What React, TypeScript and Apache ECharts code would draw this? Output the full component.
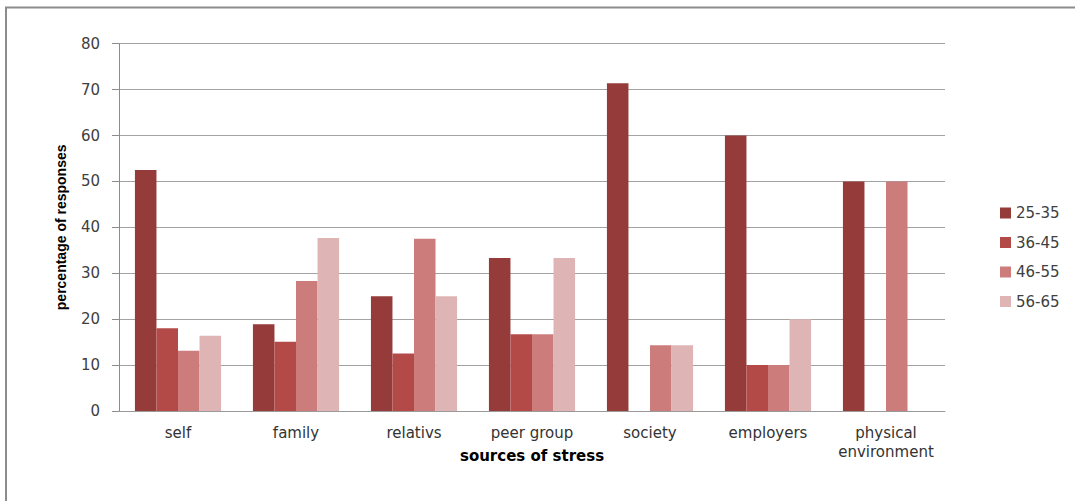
import React, { useEffect, useRef } from "react";
import * as echarts from "echarts";

// Sources of stress by age group (percentage of responses)
const categories = [
  "self",
  "family",
  "relativs",
  "peer group",
  "society",
  "employers",
  "physical\nenvironment",
];
const ageGroups = ["25-35", "36-45", "46-55", "56-65"];
const age25to35 = [52.5, 18.9, 25, 33.3, 71.4, 60, 50];
const age36to45 = [18, 15.1, 12.5, 16.7, 0, 10, 0];
const age46to55 = [13.1, 28.3, 37.5, 16.7, 14.3, 10, 50];
const age56to65 = [16.4, 37.7, 25, 33.3, 14.3, 20, 0];
const yTicks = [0, 10, 20, 30, 40, 50, 60, 70, 80];

const seriesValues = [age25to35, age36to45, age46to55, age56to65];
const colors = ["#953b3a", "#b34a48", "#cb7c7b", "#dfb4b4"];

const FONT = "DejaVu Sans";

export default function App() {
  const ref = useRef<HTMLDivElement>(null);

  useEffect(() => {
    document.body.style.margin = "0";
    if (!ref.current) return;
    const chart = echarts.init(ref.current, undefined, { renderer: "svg" });
    chart.setOption({
      animation: false,
      backgroundColor: "#ffffff",
      graphic: [
        {
          type: "rect",
          shape: { x: 6, y: 7.5, width: 1200, height: 700 },
          style: { fill: "none", stroke: "#8c8c8c", lineWidth: 2 },
          silent: true,
        },
      ],
      grid: { left: 119, right: 130, top: 43.7, bottom: 90, containLabel: false },
      legend: {
        orient: "vertical",
        left: 995,
        top: 200.5,
        icon: "rect",
        itemWidth: 11,
        itemHeight: 11,
        itemGap: 14.5,
        data: ageGroups,
        textStyle: { fontFamily: FONT, fontSize: 15, color: "#404040", lineHeight: 15 },
      },
      xAxis: {
        type: "category",
        data: categories,
        name: "sources of stress",
        nameLocation: "middle",
        nameGap: 45,
        nameMoveOverlap: false,
        nameTextStyle: {
          fontFamily: FONT,
          fontSize: 15,
          fontWeight: "bold",
          color: "#000000",
          verticalAlign: "middle",
        },
        axisLine: { show: true, lineStyle: { color: "#9a9a9a", width: 1 } },
        axisTick: { show: false },
        axisLabel: {
          interval: 0,
          margin: 12,
          fontFamily: FONT,
          fontSize: 15,
          lineHeight: 19.5,
          color: "#333333",
        },
      },
      yAxis: {
        type: "value",
        min: yTicks[0],
        max: yTicks[yTicks.length - 1],
        interval: yTicks[1] - yTicks[0],
        name: "percentage of responses",
        nameLocation: "middle",
        nameRotate: 90,
        nameGap: 58,
        nameMoveOverlap: false,
        nameTextStyle: {
          fontFamily: "Liberation Sans",
          fontSize: 14,
          fontWeight: "bold",
          color: "#000000",
          verticalAlign: "middle",
        },
        axisLine: { show: true, lineStyle: { color: "#8c8c8c", width: 1 } },
        axisTick: { show: true, inside: false, length: 7, lineStyle: { color: "#8c8c8c" } },
        axisLabel: {
          margin: 19,
          fontFamily: FONT,
          fontSize: 15,
          color: "#404040",
        },
        splitLine: { show: true, lineStyle: { color: "#a3a3a3", width: 1 } },
      },
      series: ageGroups.map((name, i) => ({
        name,
        type: "bar",
        data: seriesValues[i],
        barGap: "0%",
        barCategoryGap: "27%",
        itemStyle: { color: colors[i] },
      })),
    });
    return () => chart.dispose();
  }, []);

  return <div ref={ref} style={{ width: 1075, height: 501 }} />;
}
